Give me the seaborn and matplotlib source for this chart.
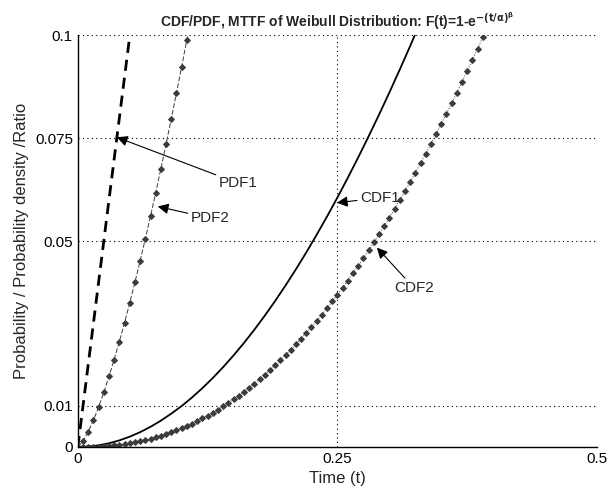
import numpy as np
import pandas as pd
import matplotlib
matplotlib.use("Agg")
import matplotlib.pyplot as plt
import seaborn as sns

# time grid used by the curves (step 0.005 / 0.01)
step = 0.005

# PDF1: thick dashed, read at t = 0, 0.01, ... 0.06
pdf1_t = [0.0, 0.01, 0.02, 0.03, 0.04, 0.05, 0.06]
pdf1 = [0.0, 0.02, 0.04, 0.06, 0.0799, 0.0998, 0.1196]

# PDF2: markers every 0.005
pdf2 = [0.0, 0.00139, 0.00368, 0.00649, 0.00970, 0.01326, 0.01712, 0.02124,
        0.02561, 0.03020, 0.03500, 0.04000, 0.04519, 0.05054, 0.05607, 0.06174,
        0.06758, 0.07357, 0.07970, 0.08599, 0.09237, 0.09890, 0.10555]

# CDF1: solid, read at t = 0, 0.01, ... 0.33
cdf1_t = [round(0.01 * i, 2) for i in range(34)]
cdf1 = [0.0, 0.0001, 0.0004, 0.0009, 0.0016, 0.0025, 0.0036, 0.0049, 0.0064,
        0.0081, 0.00995, 0.01203, 0.01430, 0.01676, 0.01941, 0.02225, 0.02527,
        0.02848, 0.03188, 0.03545, 0.03921, 0.04314, 0.04725, 0.05153, 0.05597,
        0.06059, 0.06537, 0.07031, 0.07541, 0.08066, 0.08607, 0.09163, 0.09734,
        0.10319]

# CDF2: markers every 0.005
cdf2 = [0.0, 0.0, 0.00002, 0.00006, 0.00011, 0.00019, 0.00029, 0.00041, 0.00056,
        0.00073, 0.00093, 0.00116, 0.00141, 0.00170, 0.00201, 0.00236, 0.00274,
        0.00315, 0.00359, 0.00406, 0.00457, 0.00511, 0.00569, 0.00630, 0.00694,
        0.00762, 0.00834, 0.00909, 0.00988, 0.01071, 0.01157, 0.01247, 0.01341,
        0.01439, 0.01540, 0.01646, 0.01755, 0.01868, 0.01985, 0.02106, 0.02231,
        0.02360, 0.02492, 0.02629, 0.02770, 0.02914, 0.03063, 0.03216, 0.03373,
        0.03533, 0.03698, 0.03867, 0.04041, 0.04218, 0.04399, 0.04584, 0.04773,
        0.04967, 0.05164, 0.05365, 0.05571, 0.05780, 0.05993, 0.06211, 0.06433,
        0.06659, 0.06888, 0.07122, 0.07359, 0.07600, 0.07847, 0.08095, 0.08349,
        0.08607, 0.08867, 0.09133, 0.09401, 0.09673, 0.09950, 0.10230]

x_ticks = [0, 0.25, 0.5]
x_ticklabels = ["0", "0.25", "0.5"]
y_ticks = [0, 0.01, 0.05, 0.075, 0.1]
y_ticklabels = ["0", "0.01", "0.05", "0.075", "0.1"]

# label text, text position, arrow head position
notes = [
    ("PDF1", (0.136, 0.0640), (0.0376, 0.0752)),
    ("PDF2", (0.109, 0.0555), (0.0770, 0.0584)),
    ("CDF1", (0.272, 0.0605), (0.2495, 0.0593)),
    ("CDF2", (0.305, 0.0385), (0.288, 0.0484)),
]

pdf2_t = [round(step * i, 3) for i in range(len(pdf2))]
cdf2_t = [round(step * i, 3) for i in range(len(cdf2))]

sns.set_style("white")
plt.rcParams["font.family"] = ["Liberation Sans", "DejaVu Sans"]

fig = plt.figure(figsize=(6.08, 4.95), dpi=100)
ax = fig.add_axes([0.128, 0.097, 0.854, 0.832])

gray = "#3c3c3c"
sns.lineplot(x=pdf1_t, y=pdf1, ax=ax, color="black", lw=2.0, sort=False,
             estimator=None, dashes=False, linestyle=(0, (4, 2.5)))
sns.lineplot(x=pdf2_t, y=pdf2, ax=ax, color=gray, lw=0.7, sort=False,
             estimator=None, linestyle=(0, (5, 2)), marker="D", markersize=3,
             markeredgecolor=gray, markerfacecolor=gray)
sns.lineplot(x=cdf1_t, y=cdf1, ax=ax, color="black", lw=1.3, sort=False,
             estimator=None)
sns.lineplot(x=cdf2_t, y=cdf2, ax=ax, color=gray, lw=0.7, sort=False,
             estimator=None, linestyle=":", marker="D", markersize=3,
             markeredgecolor=gray, markerfacecolor=gray)

for label, txt, head in notes:
    ax.annotate(label, xy=head, xytext=txt, fontsize=11, ha="left", va="center",
                arrowprops=dict(arrowstyle="-|>", color="black", lw=0.8,
                                mutation_scale=16, shrinkA=0, shrinkB=0))

ax.set_xlim(0, 0.5)
ax.set_ylim(0, 0.1)
ax.set_xticks(x_ticks)
ax.set_xticklabels(x_ticklabels)
ax.set_yticks(y_ticks)
ax.set_yticklabels(y_ticklabels)
ax.grid(True, color="black", linestyle=(0, (1, 3)), lw=0.8)
ax.tick_params(direction="in", length=4, labelsize=11, colors="black")
for side in ["top", "right"]:
    ax.spines[side].set_visible(False)
for side in ["left", "bottom"]:
    ax.spines[side].set_color("black")
    ax.spines[side].set_linewidth(1.0)

ax.set_xlabel("Time (t)", fontsize=12)
ax.set_ylabel("Probability / Probability density /Ratio", fontsize=12)
ax.set_title(r"CDF/PDF, MTTF of Weibull Distribution: F(t)=1-e$^{\mathbf{-(t/\alpha)^{\beta}}}$",
             fontsize=10, fontweight="bold", pad=6)

fig.savefig("out.png", dpi=100)
